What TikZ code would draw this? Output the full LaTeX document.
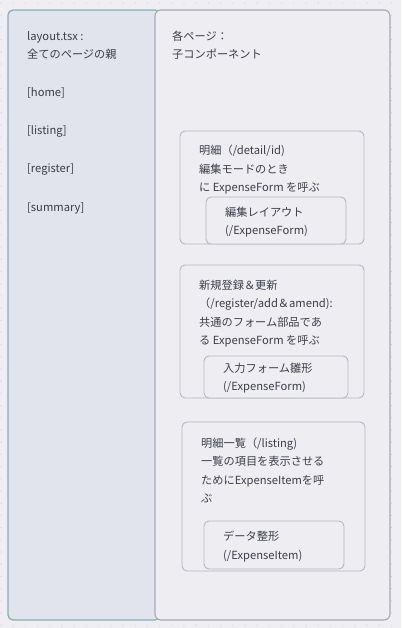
\documentclass[tikz,border=0pt]{standalone}
\usepackage{fontspec}
\setmainfont{Noto Sans CJK JP}

\definecolor{bgcol}{HTML}{EFEEF3}
\definecolor{dotcol}{HTML}{C9C9D2}
\definecolor{leftfill}{HTML}{E1E4EC}
\definecolor{leftline}{HTML}{8CAEB5}
\definecolor{rightfill}{HTML}{EEEDF2}
\definecolor{rightline}{HTML}{A7A9B3}
\definecolor{boxline}{HTML}{B4B6C0}
\definecolor{txtcol}{HTML}{3B3E4B}

\tikzset{
  txt/.style={anchor=west, align=left, inner sep=0pt, text=txtcol,
    font=\fontsize{11.2}{18.5}\selectfont},
  leftpanel/.style={draw=leftline, fill=leftfill, line width=1.3pt, rounded corners=5pt},
  rightpanel/.style={draw=rightline, fill=rightfill, line width=1.1pt, rounded corners=6pt},
  outerbox/.style={draw=boxline, fill=rightfill, line width=0.9pt, rounded corners=5pt},
  innerbox/.style={draw=boxline, fill=rightfill, line width=0.9pt, rounded corners=5pt}
}

\begin{document}
\begin{tikzpicture}[x=1pt,y=-1pt]
\useasboundingbox (0,0) rectangle (401,628);
\fill[bgcol] (0,0) rectangle (401,628);

% dotted background grid
\foreach \x in {1,13.2,...,401}
  \foreach \y in {3,15.2,...,628}
    \fill[dotcol] (\x,\y) circle (0.55pt);

% panels
\draw[leftpanel]  (8,10) rectangle (160,620);
\draw[rightpanel] (155,10) rectangle (390,620);

% child boxes
\draw[outerbox] (180,131) rectangle (364,244);
\draw[innerbox] (206,197) rectangle (346,244);

\draw[outerbox] (180,265) rectangle (364,398);
\draw[innerbox] (204,356) rectangle (348,398);

\draw[outerbox] (182,422) rectangle (365,571);
\draw[innerbox] (204,521) rectangle (344,569);

% left column
\node[txt] (layout)   at (27,45.5) {layout.tsx :\\全てのページの親};
\node[txt] (home)     at (27,93)   {[home]};
\node[txt] (listing)  at (27,131)  {[listing]};
\node[txt] (register) at (27,169)  {[register]};
\node[txt] (summary)  at (27,208)  {[summary]};

% right column
\node[txt] (pages) at (172,45) {各ページ：\\子コンポーネント};

\node[txt] (detail)    at (199,169.5) {明細（/detail/id)\\編集モードのとき\\に ExpenseForm を呼ぶ};
\node[txt] (detailsub) at (225,222)   {編集レイアウト\\(/ExpenseForm)};

\node[txt] (regist)    at (199,313.5) {新規登録＆更新\\（/register/add＆amend):\\共通のフォーム部品であ\\る ExpenseForm を呼ぶ};
\node[txt] (registsub) at (223,378)   {入力フォーム雛形\\(/ExpenseForm)};

\node[txt] (list)    at (201,470.5) {明細一覧（/listing)\\一覧の項目を表示させる\\ためにExpenseItemを呼\\ぶ};
\node[txt] (listsub) at (223,546.5) {データ整形\\(/ExpenseItem)};

\end{tikzpicture}
\end{document}
